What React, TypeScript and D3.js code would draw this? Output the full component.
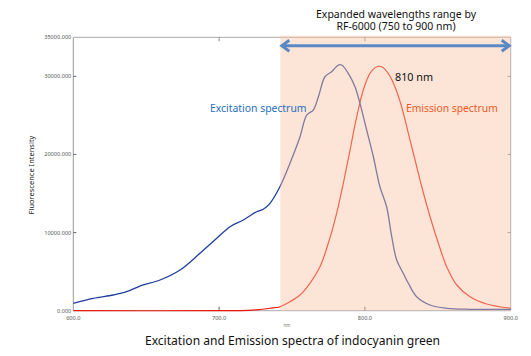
import React from "react";
import * as d3 from "d3";

const excitationWl = [600, 613.7, 627.4, 636.6, 645.7, 659.5, 673.2, 686.9, 698.4, 707.5, 716.6, 725.8, 730.3, 734.9, 741.8, 748.6, 755.5, 760.1, 764.6, 768.1, 772.6, 777.2, 781.8, 784.1, 788.6, 793.2, 796.6, 801.2, 805.8, 810.3, 814.9, 818.4, 821.8, 826.3, 829.8, 835.5, 844.7, 856.1, 872.1, 900];
const excitationVal = [950, 1590, 2010, 2430, 3160, 3930, 5210, 7350, 9270, 10750, 11610, 12670, 12980, 13750, 15900, 18870, 22270, 25050, 25690, 27390, 29950, 30590, 31450, 31450, 30390, 28670, 26550, 23130, 19710, 15870, 13310, 9470, 6490, 4790, 3510, 1790, 730, 310, 180, 180];

const emissionWl = [600, 700, 720, 728, 734.9, 741.8, 748.6, 755.5, 762.3, 769.2, 774.9, 780.6, 785.2, 789.8, 794.4, 798.9, 803.5, 808.1, 811.5, 816.0, 820.6, 825.2, 829.8, 834.4, 839.0, 844.7, 850.4, 856.1, 863.0, 872.1, 883.5, 900];
const emissionVal = [0, 0, 30, 150, 310, 510, 1150, 2010, 3510, 5630, 8630, 12470, 16310, 20570, 24830, 28250, 30390, 31230, 31230, 30390, 28670, 26110, 22710, 19290, 15870, 12030, 8630, 5630, 3290, 1790, 860, 310];

const xTicks = [600, 700, 800, 900];
const xTickLabels = ["600.0", "700.0", "800.0", "900.0"];
const yTicks = [0, 10000, 20000, 30000, 35000];
const yTickLabels = ["0.000", "10000.000", "20000.000", "30000.000", "35000.000"];
const shadeRange = [742, 900];

const W = 531;
const H = 356;
const L = 73.3, R = 510.7, T = 37.3, B = 310.7;

export default function App() {
  const x = d3.scaleLinear().domain([600, 900]).range([L, R]);
  const y = d3.scaleLinear().domain([0, 35000]).range([B, T]);
  const line = d3
    .line<[number, number]>()
    .x((d) => x(d[0]))
    .y((d) => y(d[1]))
    .curve(d3.curveCatmullRom.alpha(0.5));
  const exc = line(excitationWl.map((w, i) => [w, excitationVal[i]]) as [number, number][]) || "";
  const emi = line(emissionWl.map((w, i) => [w, emissionVal[i]]) as [number, number][]) || "";
  const font = "'Noto Sans', 'Open Sans', sans-serif";
  const sx0 = x(shadeRange[0]);
  const sx1 = x(shadeRange[1]);
  const arrowY = 45.7;
  const arrowColor = "#5a88c4";
  return (
    <svg width={W} height={H} style={{ position: "absolute", left: 0, top: 0, background: "#fff" }} fontFamily={font}>
      {/* frame */}
      <line x1={L} x2={L} y1={T} y2={B} stroke="#999" strokeWidth={1} />
      <line x1={L} x2={R} y1={T} y2={T} stroke="#aaa" strokeWidth={1} />
      <line x1={R} x2={R} y1={T} y2={B} stroke="#aaa" strokeWidth={1} />
      <line x1={L} x2={R} y1={B} y2={B} stroke="#aaa" strokeWidth={1} />
      {/* y ticks */}
      {yTicks.map((t, i) => (
        <g key={"y" + t}>
          {t > 0 && t < 35000 && (
            <>
              <line x1={L} x2={L + 3} y1={y(t)} y2={y(t)} stroke="#666" />
              <line x1={R} x2={R - 3} y1={y(t)} y2={y(t)} stroke="#888" />
            </>
          )}
          <text x={L - 2} y={y(t) + 2} fontSize={5.6} fill="#555" textAnchor="end">
            {yTickLabels[i]}
          </text>
        </g>
      ))}
      {/* x ticks */}
      {xTicks.map((t, i) => (
        <g key={"x" + t}>
          {t > 600 && t < 900 && (
            <>
              <line x1={x(t)} x2={x(t)} y1={B} y2={B - 4} stroke="#666" />
              <line x1={x(t)} x2={x(t)} y1={T} y2={T + 4} stroke="#888" />
            </>
          )}
          <text x={x(t)} y={B + 9} fontSize={5.6} fill="#555" textAnchor="middle">
            {xTickLabels[i]}
          </text>
        </g>
      ))}
      <text x={287} y={327} fontSize={4.5} fill="#777" textAnchor="middle">nm</text>
      {/* curves */}
      <path d={emi} fill="none" stroke="#ea1a08" strokeWidth={1.2} />
      <path d={exc} fill="none" stroke="#1e3f9e" strokeWidth={1.3} />
      {/* shaded overlay */}
      <rect x={sx0} y={T - 1.6} width={sx1 - sx0} height={B - T + 1.6} fill="rgb(248,195,163)" fillOpacity={0.45} />
      {/* arrow */}
      <line x1={sx0 + 2} x2={sx1 - 2} y1={arrowY} y2={arrowY} stroke={arrowColor} strokeWidth={3} />
      <polyline points={`${sx0 + 9},${arrowY - 5.5} ${sx0 + 1.5},${arrowY} ${sx0 + 9},${arrowY + 5.5}`} fill="none" stroke={arrowColor} strokeWidth={3} strokeLinejoin="miter" />
      <polyline points={`${sx1 - 9},${arrowY - 5.5} ${sx1 - 1.5},${arrowY} ${sx1 - 9},${arrowY + 5.5}`} fill="none" stroke={arrowColor} strokeWidth={3} strokeLinejoin="miter" />
      {/* annotations */}
      <text x={396} y={17.5} fontSize={10.5} fill="#111" textAnchor="middle">Expanded wavelengths range by</text>
      <text x={396} y={30} fontSize={10.5} fill="#111" textAnchor="middle">RF-6000 (750 to 900 nm)</text>
      <text x={395} y={80.5} fontSize={10.8} fill="#111">810 nm</text>
      <text x={210} y={111.5} fontSize={10.4} fill="#1f6ec2">Excitation spectrum</text>
      <text x={406} y={111.5} fontSize={10.3} fill="#f05a28">Emission spectrum</text>
      <text transform={`translate(33.5,175) rotate(-90)`} fontSize={7.5} fill="#222" textAnchor="middle">Fluorescence Intensity</text>
      <text x={292.5} y={345} fontSize={12.1} fill="#111" textAnchor="middle">Excitation and Emission spectra of indocyanin green</text>
    </svg>
  );
}
